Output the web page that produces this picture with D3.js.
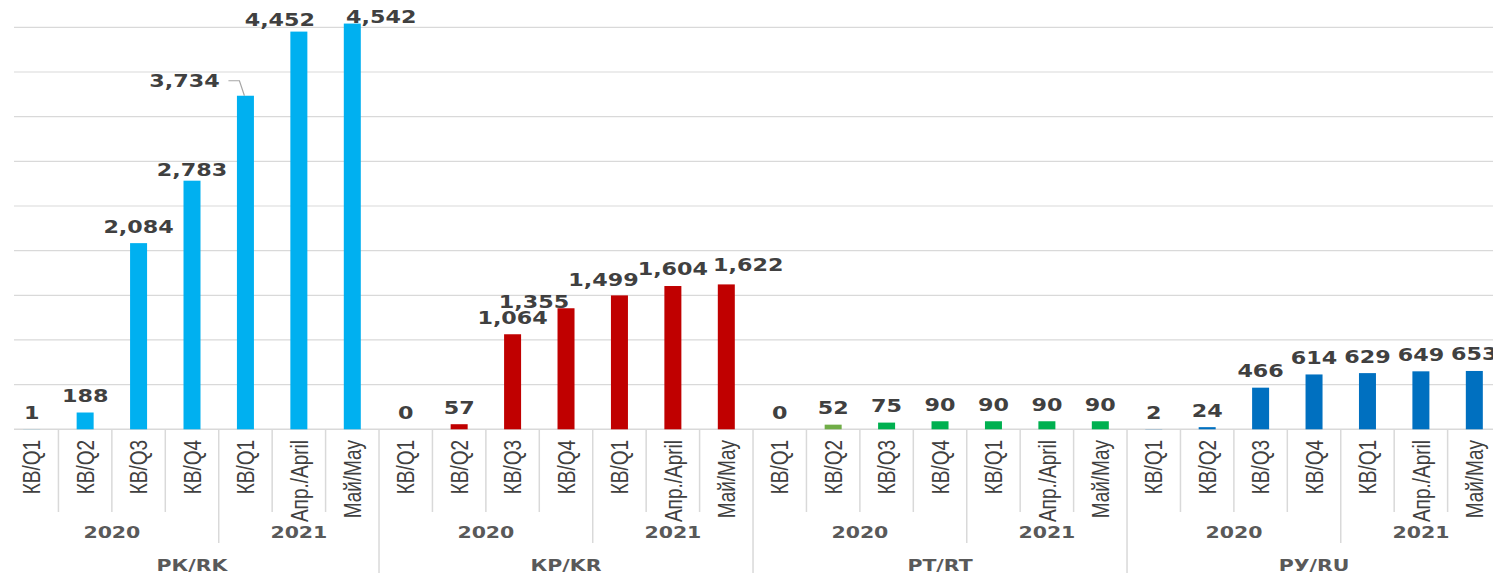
<!DOCTYPE html>
<html lang="ru">
<head>
  <meta charset="UTF-8" />
  <title>РК / КР / РТ / РУ</title>
  <script src="https://d3js.org/d3.v7.min.js"></script>
  <style>
    body { margin: 0; background: #fff; }
    svg { display: block; }
  </style>
</head>
<body>
  <div id="chart"></div>

  <script>
    // ---------- DATA ----------
    const periods = ["КВ/Q1", "КВ/Q2", "КВ/Q3", "КВ/Q4", "КВ/Q1", "Апр./April", "Май/May"];
    const years = ["2020", "2021"];
    const yearSpans = [4, 3];
    const groups = ["РК/RK", "КР/KR", "РТ/RT", "РУ/RU"];

    const rk = [1, 188, 2084, 2783, 3734, 4452, 4542];
    const kr = [0, 57, 1064, 1355, 1499, 1604, 1622];
    const rt = [0, 52, 75, 90, 90, 90, 90];
    const ru = [2, 24, 466, 614, 629, 649, 653];

    const seriesValues = [rk, kr, rt, ru];
    const seriesColors = ["#00B0F0", "#C00000", "#00B050", "#0070C0"];

    // ---------- LAYOUT ----------
    const width = 1493, height = 573;
    const stretch = 1.28;          // the original picture is stretched sideways
    const baseY = 429.3;
    const band = 53.43;
    const barW = 17;

    const rows = [];
    seriesValues.forEach((vals, g) => vals.forEach((v, i) => rows.push({ g, i, v })));

    const x = d3.scaleBand().domain(d3.range(rows.length))
      .range([5, 5 + rows.length * band]).padding(0);
    const y = d3.scaleLinear().domain([0, 5000]).range([baseY, baseY - 5000 * 0.08933]);
    const fmt = d3.format(",");

    // hand-moved data labels (dx, dy in px) and odd bar colours
    const labelShift = { "0-3": [0, 6], "0-5": [-19, 5], "0-6": [29, 10.4],
                         "1-3": [-32, 10.4], "1-4": [-16, 1.6], "1-6": [22, -2.4] };
    const barColorOverride = { "2-1": "#70AD47" };

    const svg = d3.select("#chart").append("svg")
      .attr("width", width).attr("height", height);

    // gridlines
    svg.append("g").selectAll("line")
      .data(d3.range(500, 5000, 500))
      .join("line")
      .attr("x1", 14).attr("x2", width)
      .attr("y1", d => y(d)).attr("y2", d => y(d))
      .attr("stroke", "#d9d9d9").attr("stroke-width", 1.2);

    // separators under the axis
    const sep = svg.append("g");
    d3.range(1, rows.length).forEach(k => {
      const xx = x(k);
      const inGroup = k % periods.length;
      const bottom = inGroup === 0 ? height : (inGroup === yearSpans[0] ? 543 : 512);
      sep.append("line")
        .attr("x1", xx).attr("x2", xx).attr("y1", baseY).attr("y2", bottom)
        .attr("stroke", "#d9d9d9").attr("stroke-width", 1.5);
    });

    // axis line
    svg.append("line")
      .attr("x1", 14).attr("x2", width).attr("y1", baseY).attr("y2", baseY)
      .attr("stroke", "#d9d9d9").attr("stroke-width", 1.5);

    // bars
    svg.append("g").selectAll("rect")
      .data(rows)
      .join("rect")
      .attr("x", (d, k) => x(k) + x.bandwidth() / 2 - barW / 2)
      .attr("width", barW)
      .attr("y", d => y(d.v))
      .attr("height", d => baseY - y(d.v))
      .attr("fill", d => barColorOverride[d.g + "-" + d.i] || seriesColors[d.g]);

    // leader line for 3,734
    const k3734 = 4;
    const lx = x(k3734) + x.bandwidth() / 2;
    svg.append("polyline")
      .attr("points", [[lx - 17, y(3734) - 15], [lx - 6, y(3734) - 15], [lx - 1, y(3734)]].map(p => p.join(",")).join(" "))
      .attr("fill", "none").attr("stroke", "#a6a6a6").attr("stroke-width", 1.2);

    // data labels
    svg.append("g").selectAll("text")
      .data(rows)
      .join("text")
      .attr("transform", (d, k) => {
        let [dx, dy] = labelShift[d.g + "-" + d.i] || [0, 0];
        if (d.g === 0 && d.i === 4) { dx = -61; dy = 2.3; }
        const cx = x(k) + x.bandwidth() / 2 + dx;
        const by = y(d.v) - 10.6 + dy;
        return `translate(${cx},${by}) scale(${stretch},1)`;
      })
      .attr("text-anchor", "middle")
      .attr("font-family", "'DejaVu Sans', Verdana, sans-serif")
      .attr("font-weight", "bold")
      .attr("font-size", 17.4)
      .attr("fill", "#404040")
      .text(d => fmt(d.v));

    // period labels (rotated)
    svg.append("g").selectAll("text")
      .data(rows)
      .join("text")
      .attr("transform", (d, k) => {
        const cx = x(k) + x.bandwidth() / 2 + 8.7;
        return `translate(${cx},440) scale(${stretch},1) rotate(-90)`;
      })
      .attr("text-anchor", "end")
      .attr("font-family", "'Liberation Sans', Arial, sans-serif")
      .attr("font-size", 19)
      .attr("fill", "#404040")
      .text(d => periods[d.i]);

    // year and group labels
    const lab = svg.append("g")
      .attr("font-family", "'DejaVu Sans', Verdana, sans-serif")
      .attr("font-weight", "bold")
      .attr("font-size", 16)
      .attr("fill", "#595959")
      .attr("text-anchor", "middle");

    groups.forEach((gName, g) => {
      const start = g * periods.length;
      let offs = 0;
      years.forEach((yr, j) => {
        const a = x(start + offs), b = x(start + offs) + yearSpans[j] * band;
        lab.append("text")
          .attr("transform", `translate(${(a + b) / 2},538) scale(${stretch},1)`)
          .text(yr);
        offs += yearSpans[j];
      });
      const ga = x(start), gb = x(start) + periods.length * band;
      lab.append("text")
        .attr("transform", `translate(${(ga + gb) / 2},571) scale(${stretch},1)`)
        .text(gName);
    });
  </script>
</body>
</html>
